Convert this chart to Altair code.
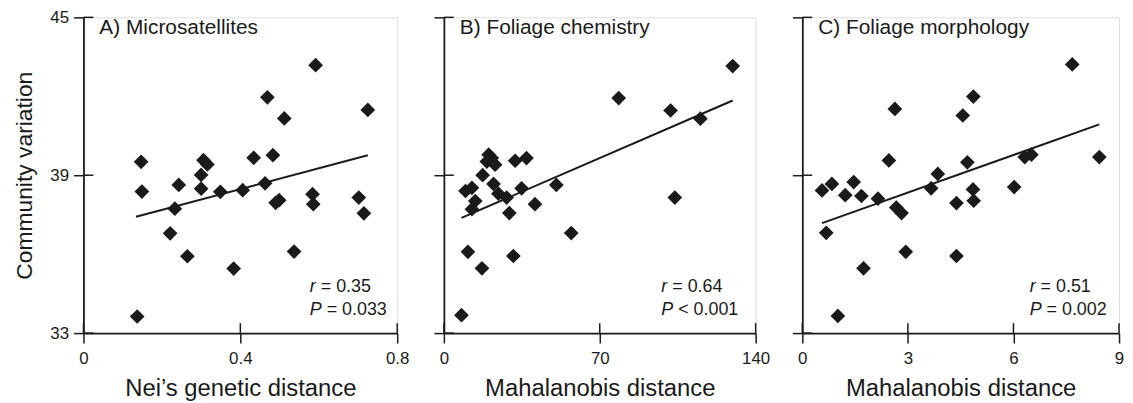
import altair as alt
import pandas as pd

FONT = "Liberation Sans"
INK = "#1a1a1a"

# ---------------- data ----------------
y_ticks = [33, 39, 45]

a_x = [0.592, 0.469, 0.725, 0.512, 0.147, 0.306, 0.316, 0.434, 0.483, 0.300, 0.149, 0.243, 0.300, 0.349,
       0.406, 0.463, 0.499, 0.490, 0.584, 0.586, 0.702, 0.715, 0.233, 0.221, 0.265, 0.383, 0.537, 0.137]
a_y = [43.18, 41.96, 41.48, 41.16, 39.51, 39.57, 39.41, 39.66, 39.76, 39.01, 38.38, 38.63, 38.49, 38.37,
       38.43, 38.69, 38.05, 37.95, 38.28, 37.90, 38.15, 37.55, 37.73, 36.79, 35.92, 35.45, 36.10, 33.63]
a_fit_x = [0.134, 0.725]
a_fit_y = [37.42, 39.76]
a_xticks = [0, 0.4, 0.8]

b_x = [129.7, 78.5, 101.8, 115.2, 20.1, 21.5, 19.3, 23.0, 32.0, 37.1, 17.4, 9.7, 12.6, 14.1,
       12.6, 22.3, 24.5, 28.2, 34.9, 29.4, 40.9, 50.5, 103.7, 57.2, 10.8, 31.2, 17.1, 7.9]
b_y = [43.15, 41.93, 41.46, 41.15, 39.78, 39.65, 39.52, 39.40, 39.55, 39.65, 39.00, 38.40, 38.52, 38.02,
       37.71, 38.67, 38.30, 38.15, 38.50, 37.56, 37.90, 38.63, 38.15, 36.80, 36.09, 35.93, 35.46, 33.68]
b_fit_x = [7.9, 129.7]
b_fit_y = [37.38, 41.84]
b_xticks = [0, 70, 140]

c_x = [7.67, 4.86, 2.63, 4.56, 2.46, 4.69, 6.32, 6.51, 8.44, 3.85, 0.56, 0.84, 1.22, 1.46,
       1.68, 2.15, 2.67, 2.82, 3.66, 4.38, 4.85, 4.87, 6.02, 0.68, 2.94, 4.38, 1.74, 1.01]
c_y = [43.21, 41.99, 41.52, 41.27, 39.56, 39.49, 39.69, 39.78, 39.69, 39.05, 38.42, 38.67, 38.24, 38.74,
       38.21, 38.11, 37.77, 37.56, 38.50, 37.94, 38.46, 38.03, 38.55, 36.81, 36.09, 35.93, 35.46, 33.65]
c_fit_x = [0.56, 8.44]
c_fit_y = [37.18, 40.93]
c_xticks = [0, 3, 6, 9]

panel_titles = ["A) Microsatellites", "B) Foliage chemistry", "C) Foliage morphology"]
x_titles = ["Nei\u2019s genetic distance", "Mahalanobis distance", "Mahalanobis distance"]
r_values = ["= 0.35", "= 0.64", "= 0.51"]
p_values = ["= 0.033", "< 0.001", "= 0.002"]
y_title = "Community variation"

HEIGHT = 318


def label(text, x, y, size, style="normal"):
    df = pd.DataFrame({"t": [text]})
    return alt.Chart(df).mark_text(align="left", baseline="alphabetic", fontSize=size, font=FONT,
                                   fontStyle=style, color=INK).encode(
        x=alt.value(x), y=alt.value(y), text="t:N")


def panel(px, py, fx, fy, xticks, ptitle, xtitle, rtxt, ptxt, show_y, width, ann_x):
    xdom = [xticks[0], xticks[-1]]
    xscale = alt.Scale(domain=xdom, nice=False, zero=False)
    yscale = alt.Scale(domain=[33, 45], nice=False, zero=False)
    xaxis = alt.Axis(values=xticks, title=xtitle, format="~f", tickSize=10, tickWidth=1.5,
                     tickColor=INK, domainColor=INK, domainWidth=1.8, labelPadding=8,
                     labelFontSize=17, labelColor=INK, labelFont=FONT, titleFont=FONT,
                     titleFontSize=24, titleFontWeight="normal", titleColor=INK, titlePadding=10,
                     grid=False, labelFlush=False)
    if show_y:
        yaxis = alt.Axis(values=y_ticks, title=y_title, tickSize=10, tickWidth=1.5, tickColor=INK,
                         domainColor=INK, domainWidth=1.8, labelPadding=5, labelFontSize=17,
                         labelColor=INK, labelFont=FONT, titleFont=FONT, titleFontSize=23,
                         titleFontWeight="normal", titleColor=INK, titlePadding=13, grid=False)
    else:
        yaxis = alt.Axis(values=y_ticks, title=None, labels=False, tickSize=10, tickWidth=1.5,
                         tickColor=INK, domainColor=INK, domainWidth=1.8, grid=False)

    pts = pd.DataFrame({"x": px, "y": py})
    fit = pd.DataFrame({"x": fx, "y": fy})
    yt = pd.DataFrame({"y": y_ticks})
    xt = pd.DataFrame({"x": xticks})

    base_pts = alt.Chart(pts).mark_point(shape="diamond", filled=True, size=220, color=INK,
                                         opacity=1).encode(
        x=alt.X("x:Q", scale=xscale, axis=xaxis),
        y=alt.Y("y:Q", scale=yscale, axis=yaxis),
    )
    line = alt.Chart(fit).mark_line(color=INK, strokeWidth=2).encode(
        x=alt.X("x:Q", scale=xscale), y=alt.Y("y:Q", scale=yscale))
    # inward halves of the crossing ticks
    ytk = alt.Chart(yt).mark_rule(color=INK, strokeWidth=1.5).encode(
        x=alt.value(0), x2=alt.value(10), y=alt.Y("y:Q", scale=yscale))
    xtk = alt.Chart(xt).mark_rule(color=INK, strokeWidth=1.5).encode(
        x=alt.X("x:Q", scale=xscale), y=alt.value(HEIGHT - 10), y2=alt.value(HEIGHT))

    layers = [base_pts, line, ytk, xtk,
              label(ptitle, 16, 17, 21),
              label("r", ann_x, 277, 18, "italic"),
              label(rtxt, ann_x + 11, 277, 18),
              label("P", ann_x, 300, 18, "italic"),
              label(ptxt, ann_x + 17, 300, 18)]
    return alt.layer(*layers).properties(width=width, height=HEIGHT)


pa = panel(a_x, a_y, a_fit_x, a_fit_y, a_xticks, panel_titles[0], x_titles[0], r_values[0],
           p_values[0], True, 316, 228)
pb = panel(b_x, b_y, b_fit_x, b_fit_y, b_xticks, panel_titles[1], x_titles[1], r_values[1],
           p_values[1], False, 314, 219)
pc = panel(c_x, c_y, c_fit_x, c_fit_y, c_xticks, panel_titles[2], x_titles[2], r_values[2],
           p_values[2], False, 319, 229)

chart = alt.hconcat(pa, pb, pc, spacing=47, bounds="flush").configure_view(stroke=None).configure(
    background="white", padding={"left": 5, "top": -2, "right": 0, "bottom": 0})

chart.save("out.html", embed_options={"renderer": "svg", "actions": False})
